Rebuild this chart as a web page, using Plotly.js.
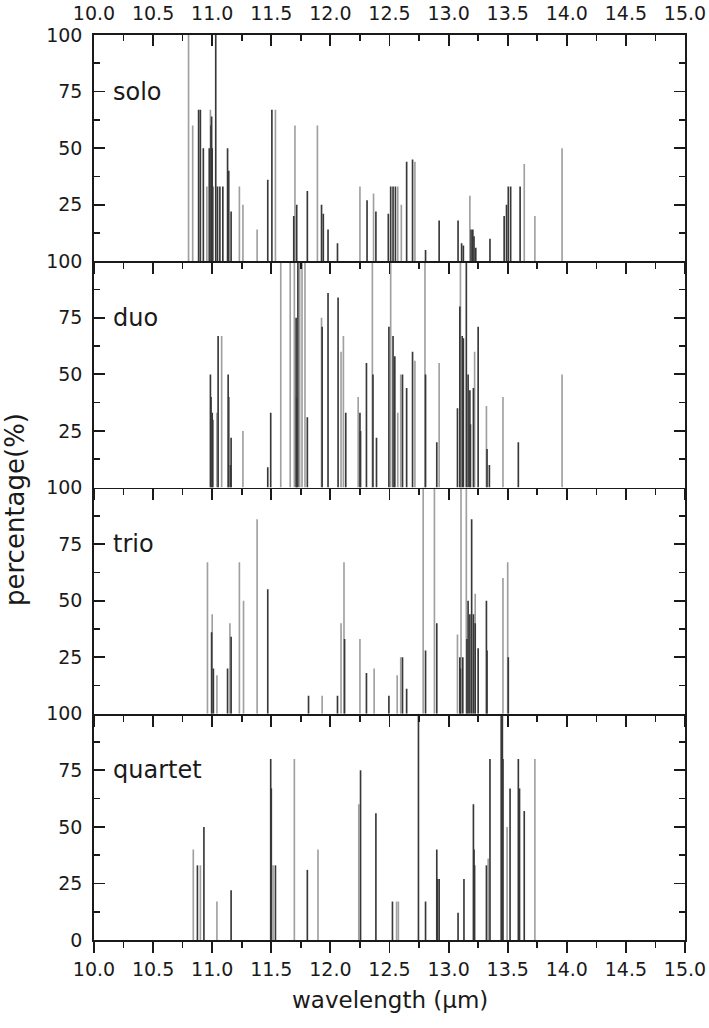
<!DOCTYPE html>
<html>
<head>
<meta charset="utf-8">
<script src="https://cdn.plot.ly/plotly-3.0.1.min.js"></script>
<style>html,body{margin:0;padding:0;background:#fff;}#chart{width:709px;height:1028px;}</style>
</head>
<body>
<div id="chart"></div>
<script>
// ---------- data (wavelength in µm, percentage in %) ----------
const panelNames = ["solo", "duo", "trio", "quartet"];
const xTickVals = [10.0, 10.5, 11.0, 11.5, 12.0, 12.5, 13.0, 13.5, 14.0, 14.5, 15.0];

// solo
const soloLightX = [10.80, 10.835, 10.955, 10.985, 11.23, 11.26, 11.38, 11.535, 11.70, 11.89, 12.25, 12.365, 12.57, 12.60, 12.715, 13.18, 13.64, 13.73, 13.96];
const soloLightY = [100, 60, 33, 67, 33, 25, 14, 67, 60, 60, 33, 30, 33, 25, 44, 29, 43, 20, 50];
const soloDarkX = [10.885, 10.90, 10.925, 10.975, 10.99, 10.995, 11.0, 11.005, 11.03, 11.045, 11.065, 11.09, 11.13, 11.14, 11.16, 11.47, 11.505, 11.69, 11.715, 11.805, 11.925, 11.94, 11.98, 12.06, 12.31, 12.385, 12.49, 12.51, 12.53, 12.55, 12.645, 12.695, 12.805, 12.92, 13.08, 13.11, 13.125, 13.19, 13.205, 13.215, 13.23, 13.35, 13.47, 13.49, 13.505, 13.525, 13.605];
const soloDarkY = [67, 67, 50, 50, 60, 64, 50, 33, 100, 33, 33, 33, 50, 40, 22, 36, 67, 20, 25, 31, 25, 21, 14, 8, 27, 22, 21, 33, 33, 33, 44, 45, 5, 18, 18, 8, 7, 14, 14, 11, 6, 10, 20, 25, 33, 33, 33];

// duo
const duoLightX = [11.04, 11.08, 11.26, 11.58, 11.66, 11.695, 11.74, 11.76, 11.785, 11.925, 12.09, 12.11, 12.235, 12.355, 12.51, 12.57, 12.595, 12.715, 12.80, 12.92, 13.10, 13.22, 13.32, 13.46, 13.96];
const duoLightY = [33, 67, 25, 100, 100, 100, 100, 100, 100, 75, 60, 67, 40, 100, 100, 33, 50, 56, 100, 55, 100, 60, 36, 40, 50];
const duoDarkX = [10.985, 10.99, 11.0, 11.005, 11.05, 11.135, 11.14, 11.155, 11.16, 11.47, 11.495, 11.71, 11.715, 11.725, 11.805, 11.93, 11.98, 12.065, 12.13, 12.25, 12.255, 12.305, 12.36, 12.39, 12.495, 12.53, 12.545, 12.61, 12.645, 12.695, 12.805, 12.90, 13.075, 13.095, 13.115, 13.125, 13.15, 13.165, 13.18, 13.185, 13.21, 13.25, 13.325, 13.345, 13.59];
const duoDarkY = [50, 40, 33, 30, 67, 50, 40, 10, 22, 9, 33, 75, 40, 100, 31, 71, 86, 84, 33, 33, 25, 55, 50, 22, 71, 67, 58, 50, 44, 60, 50, 20, 35, 80, 67, 66, 100, 50, 43, 28, 44, 71, 17, 10, 20];

// trio
const trioLightX = [10.96, 11.0, 11.04, 11.15, 11.23, 11.265, 11.38, 11.93, 12.09, 12.115, 12.25, 12.37, 12.565, 12.595, 12.785, 12.88, 13.075, 13.105, 13.15, 13.225, 13.46, 13.50];
const trioLightY = [67, 44, 17, 40, 67, 50, 86, 8, 40, 67, 33, 20, 17, 25, 100, 100, 35, 100, 100, 53, 60, 67];
const trioDarkX = [10.995, 11.01, 11.13, 11.16, 11.47, 11.815, 12.06, 12.12, 12.305, 12.495, 12.61, 12.645, 12.805, 12.90, 13.095, 13.10, 13.12, 13.155, 13.165, 13.18, 13.195, 13.21, 13.225, 13.25, 13.32, 13.325, 13.505];
const trioDarkY = [36, 20, 20, 34, 55, 8, 8, 33, 18, 8, 25, 11, 28, 40, 25, 20, 25, 33, 50, 44, 86, 44, 40, 29, 50, 28, 25];

// quartet
const quartetLightX = [10.84, 10.90, 11.04, 11.515, 11.695, 11.895, 12.24, 12.56, 12.575, 13.335, 13.495, 13.73];
const quartetLightY = [40, 33, 17, 33, 80, 40, 60, 17, 17, 36, 50, 80];
const quartetDarkX = [10.875, 10.93, 11.16, 11.495, 11.50, 11.535, 11.805, 12.255, 12.385, 12.525, 12.745, 12.805, 12.90, 12.905, 12.92, 13.08, 13.13, 13.21, 13.215, 13.22, 13.32, 13.35, 13.445, 13.455, 13.46, 13.52, 13.59, 13.60, 13.64];
const quartetDarkY = [33, 50, 22, 80, 67, 33, 31, 75, 56, 17, 100, 17, 40, 27, 27, 12, 27, 60, 40, 33, 33, 80, 100, 100, 80, 67, 80, 67, 57];

// ---------- styling ----------
const FONT = "DejaVu Sans, Verdana, sans-serif";
const INK = "#1a1a1a";
const LIGHT = "#a0a0a0";
const DARK = "#383838";
const BARW = 0.014;

// panel i (0 = top) -> axis suffix
const axSuffix = ["4", "3", "2", ""];

function bars(xs, ys, color, i) {
  return {
    type: "bar", x: xs, y: ys, width: BARW,
    marker: {color: color, line: {width: 0}},
    xaxis: "x" + axSuffix[i], yaxis: "y" + axSuffix[i],
    hoverinfo: "skip", showlegend: false
  };
}

const lightX = [soloLightX, duoLightX, trioLightX, quartetLightX];
const lightY = [soloLightY, duoLightY, trioLightY, quartetLightY];
const darkX = [soloDarkX, duoDarkX, trioDarkX, quartetDarkX];
const darkY = [soloDarkY, duoDarkY, trioDarkY, quartetDarkY];

const traces = [];
for (let i = 0; i < 4; i++) {
  traces.push(bars(lightX[i], lightY[i], LIGHT, i));
  traces.push(bars(darkX[i], darkY[i], DARK, i));
}
// empty trace so the top axis is laid out
traces.push({type: "scatter", x: [], y: [], xaxis: "x5", yaxis: "y4", showlegend: false, hoverinfo: "skip"});

const tickFont = {family: FONT, size: 19, color: INK};

function xAxis(anchor, labels) {
  return {
    domain: [0, 1], range: [10, 15], anchor: anchor, fixedrange: true,
    tickmode: "array", tickvals: xTickVals, ticktext: xTickVals.map(v => v.toFixed(1)),
    ticks: "outside", ticklen: 11, tickwidth: 1.8, tickcolor: INK,
    minor: {ticks: "outside", ticklen: 6, tickwidth: 1.6, dtick: 0.25, tick0: 10, tickcolor: INK, showgrid: false},
    showticklabels: labels, tickfont: tickFont,
    showline: true, linewidth: 1.8, linecolor: INK, mirror: false,
    showgrid: false, zeroline: false
  };
}
function yAxis(dom, anchor, withZero) {
  const tv = withZero ? [0, 25, 50, 75, 100] : [25, 50, 75, 100];
  return {
    domain: dom, range: [0, 100], anchor: anchor, fixedrange: true,
    tickmode: "array", tickvals: tv,
    ticks: "inside", ticklen: 11, tickwidth: 1.8, tickcolor: INK,
    minor: {ticks: "inside", ticklen: 6, tickwidth: 1.6, tickvals: [12.5, 37.5, 62.5, 87.5], tickcolor: INK, showgrid: false},
    tickfont: tickFont, ticklabelstandoff: 6,
    showline: true, linewidth: 1.8, linecolor: INK, mirror: "ticks",
    showgrid: false, zeroline: false
  };
}

const layout = {
  width: 709, height: 1028,
  margin: {l: 94, r: 24, t: 35, b: 88, pad: 0},
  paper_bgcolor: "#fff", plot_bgcolor: "#fff",
  barmode: "overlay", showlegend: false,
  font: {family: FONT, color: INK},
  xaxis: xAxis("y", true),
  xaxis2: xAxis("y2", false),
  xaxis3: xAxis("y3", false),
  xaxis4: xAxis("y4", false),
  xaxis5: Object.assign(xAxis("y4", true), {overlaying: "x4", side: "top", ticks: "inside",
    minor: {ticks: "inside", ticklen: 6, tickwidth: 1.6, dtick: 0.25, tick0: 10, tickcolor: INK, showgrid: false},
    ticklabelstandoff: 6}),
  yaxis: yAxis([0, 0.25], "x", true),
  yaxis2: yAxis([0.25, 0.5], "x2", false),
  yaxis3: yAxis([0.5, 0.75], "x3", false),
  yaxis4: yAxis([0.75, 1], "x4", false),
  annotations: panelNames.map((name, i) => ({
    text: name, x: 10.14, y: 75, xref: "x" + axSuffix[i], yref: "y" + axSuffix[i],
    xanchor: "left", yanchor: "middle", showarrow: false,
    font: {family: FONT, size: 24, color: INK}
  })).concat([
    {text: "percentage(%)", textangle: -90, xref: "paper", yref: "paper", x: -0.134, y: 0.476,
     xanchor: "center", yanchor: "middle", showarrow: false, font: {family: FONT, size: 26, color: INK}},
    {text: "wavelength (µm)", xref: "paper", yref: "paper", x: 0.5, y: -0.066,
     xanchor: "center", yanchor: "middle", showarrow: false, font: {family: FONT, size: 23, color: INK}}
  ])
};

Plotly.newPlot("chart", traces, layout, {staticPlot: true, displayModeBar: false});
</script>
</body>
</html>
